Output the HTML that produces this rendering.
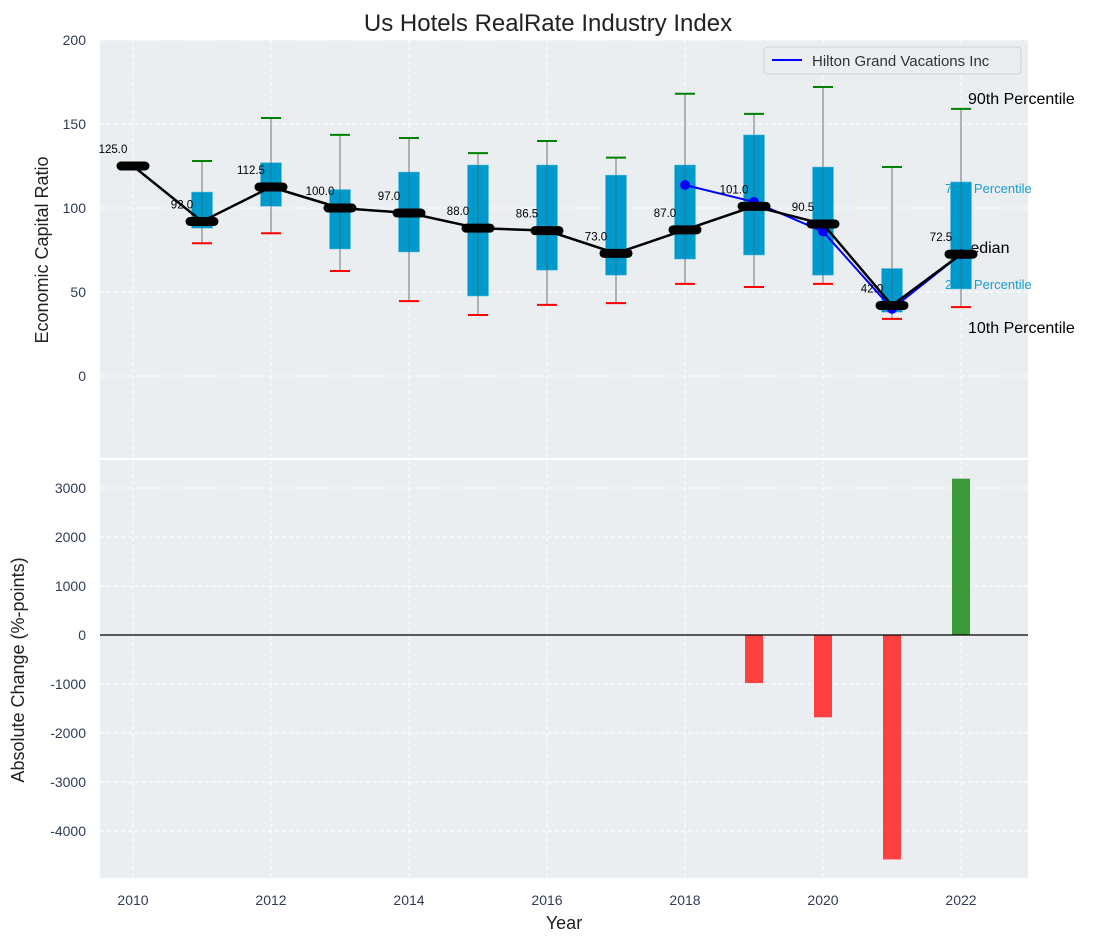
<!DOCTYPE html>
<html><head><meta charset="utf-8"><style>
body{margin:0;background:#fff;}
svg{font-family:"Liberation Sans","DejaVu Sans",sans-serif;}
</style></head><body>
<svg id="chart" width="1103" height="942" xmlns="http://www.w3.org/2000/svg">
<text x="548" y="31" font-size="24" text-anchor="middle" fill="#222">Us Hotels RealRate Industry Index</text>
<rect x="100" y="40" width="928" height="418" fill="#eaeef0"/>
<rect x="100" y="460" width="928" height="418" fill="#eaeef0"/>
<g id="topG"></g><g id="botG"></g>
<text x="48" y="250" font-size="18" text-anchor="middle" fill="#222" transform="rotate(-90 48 250)">Economic Capital Ratio</text>
<text x="24" y="670" font-size="18" text-anchor="middle" fill="#222" transform="rotate(-90 24 670)">Absolute Change (%-points)</text>
<text x="564" y="929" font-size="18" text-anchor="middle" fill="#222">Year</text>
<g>
<rect x="764" y="47" width="257" height="27" rx="3" fill="#eaeef0" stroke="#d0d4d8"/>
<line x1="772" y1="60" x2="802" y2="60" stroke="#0000ff" stroke-width="2"/>
<text x="812" y="66" font-size="15" fill="#333">Hilton Grand Vacations Inc</text>
</g>
</svg>
<script>
const years=[2010,2011,2012,2013,2014,2015,2016,2017,2018,2019,2020,2021,2022];
const medians=[125,92,112.5,100,97,88,86.5,73,87,101,90.5,42,72.5];
const q1=[null,88,101,75.6,73.8,47.6,63,60,69.6,72,60,38,51.8];
const q3=[null,109.5,127,111,121.4,125.6,125.6,119.6,125.6,143.5,124.4,64,115.5];
const p10=[null,79,85,62.5,44.6,36.3,42.3,43.4,54.8,53,54.8,34,41];
const p90=[null,128,153.6,143.5,141.7,132.7,139.9,130,168,156,172,124.4,159];
const hiltonYears=[2018,2019,2020,2021,2022];
const hiltonVals=[113.7,103.6,86,40,72.5];
const changeYears=[2019,2020,2021,2022];
const changeVals=[-980,-1680,-4580,3190];
const topTicks=[0,50,100,150,200];
const botTicks=[-4000,-3000,-2000,-1000,0,1000,2000,3000];
const xTicks=[2010,2012,2014,2016,2018,2020,2022];

const NS="http://www.w3.org/2000/svg";
const X=v=>133+(v-2010)*69;
const Y=v=>376-v*1.68;
const B=v=>635-v*0.049;
function mk(p,t,a){const e=document.createElementNS(NS,t);for(const k in a)e.setAttribute(k,a[k]);p.appendChild(e);return e;}
const topG=document.getElementById('topG'),botG=document.getElementById('botG');
xTicks.forEach(t=>{
 let g=mk(topG,'line',{x1:X(t),x2:X(t),y1:40,y2:458,stroke:'#fff','stroke-dasharray':'4,3'});
 
 
 let g2=mk(botG,'line',{x1:X(t),x2:X(t),y1:460,y2:878,stroke:'#fff','stroke-dasharray':'4,3'});
 
 
 let l=mk(botG,'text',{x:X(t),y:905,'font-size':14,'text-anchor':'middle',fill:'#2e3d55'});l.textContent=t;
 
 
});
topTicks.forEach(t=>{
 let g=mk(topG,'line',{x1:100,x2:1028,y1:Y(t),y2:Y(t),stroke:'#fff','stroke-dasharray':'4,3'});
 
 
 let l=mk(topG,'text',{x:86,y:Y(t)+5,'font-size':14,'text-anchor':'end',fill:'#2e3d55'});l.textContent=t;
 
 
});
botTicks.forEach(t=>{
 let g=mk(botG,'line',{x1:100,x2:1028,y1:B(t),y2:B(t),stroke:'#fff','stroke-dasharray':'4,3'});
 
 
 let l=mk(botG,'text',{x:86,y:B(t)+5,'font-size':14,'text-anchor':'end',fill:'#2e3d55'});l.textContent=t;
 
 
});
mk(topG,'line',{x1:100,x2:1028,y1:459,y2:459,stroke:'#fff','stroke-width':2});
const ann=[["75th Percentile",945,Y(q3[12])+11,13,'#1a9fd0'],["25th Percentile",945,Y(q1[12])+0,13,'#1a9fd0'],["Median",957,Y(medians[12])-1,16,'#000'],["90th Percentile",968,Y(p90[12])-5,16,'#000'],["10th Percentile",968,Y(p10[12])+26,16,'#000']];
ann.forEach(a=>{let t=mk(topG,'text',{x:a[1],y:a[2],'font-size':a[3],fill:a[4]});t.textContent=a[0];
 
 });
years.forEach((yr,i)=>{
 if(q1[i]===null)return;
 const x=X(yr);
 let w=mk(topG,'line',{x1:x,x2:x,y1:Y(p90[i]),y2:Y(p10[i]),stroke:'#888','stroke-width':1.2});
 
 
 let r=mk(topG,'rect',{x:x-10.5,y:Y(q3[i]),width:21,height:Y(q1[i])-Y(q3[i]),fill:'#0099cc',stroke:'#5fc0e0','stroke-width':0.5});
 
 
 let w2=mk(topG,'line',{x1:x,x2:x,y1:Y(q3[i]),y2:Y(q1[i]),stroke:'#555','stroke-width':1,opacity:0.5});
 
 
 let a=mk(topG,'line',{x1:x-10,x2:x+10,y1:Y(p90[i]),y2:Y(p90[i]),stroke:'green','stroke-width':2});
 
 
 let b=mk(topG,'line',{x1:x-10,x2:x+10,y1:Y(p10[i]),y2:Y(p10[i]),stroke:'red','stroke-width':2});
 
 
});
let hp=mk(topG,'polyline',{points:hiltonYears.map((y,i)=>X(y)+','+Y(hiltonVals[i])).join(' '),fill:'none',stroke:'#0000ff','stroke-width':2});


hiltonYears.forEach((y,i)=>{let c=mk(topG,'circle',{cx:X(y),cy:Y(hiltonVals[i]),r:5,fill:'#0000ff'});
 
 });
let ml=mk(topG,'polyline',{points:years.map((y,i)=>X(y)+','+Y(medians[i])).join(' '),fill:'none',stroke:'#000','stroke-width':2.5});


years.forEach((y,i)=>{
 let m=mk(topG,'line',{x1:X(y)-12,x2:X(y)+12,y1:Y(medians[i]),y2:Y(medians[i]),stroke:'#000','stroke-width':9,'stroke-linecap':'round'});
 
 
 let t=mk(topG,'text',{x:X(y)-20,y:Y(medians[i])-13,'font-size':11.5,'text-anchor':'middle',fill:'#000'});t.textContent=medians[i].toFixed(1);
 
 
});
changeYears.forEach((y,i)=>{
 const v=changeVals[i];
 let r=mk(botG,'rect',{x:X(y)-9,y:Math.min(B(v),B(0)),width:18,height:Math.abs(B(v)-B(0)),fill:v<0?'#ff4040':'#3a9a3a'});
 
 
});
let z=mk(botG,'line',{x1:100,x2:1028,y1:B(0),y2:B(0),stroke:'#000','stroke-width':1.2});


</script>
</body></html>
